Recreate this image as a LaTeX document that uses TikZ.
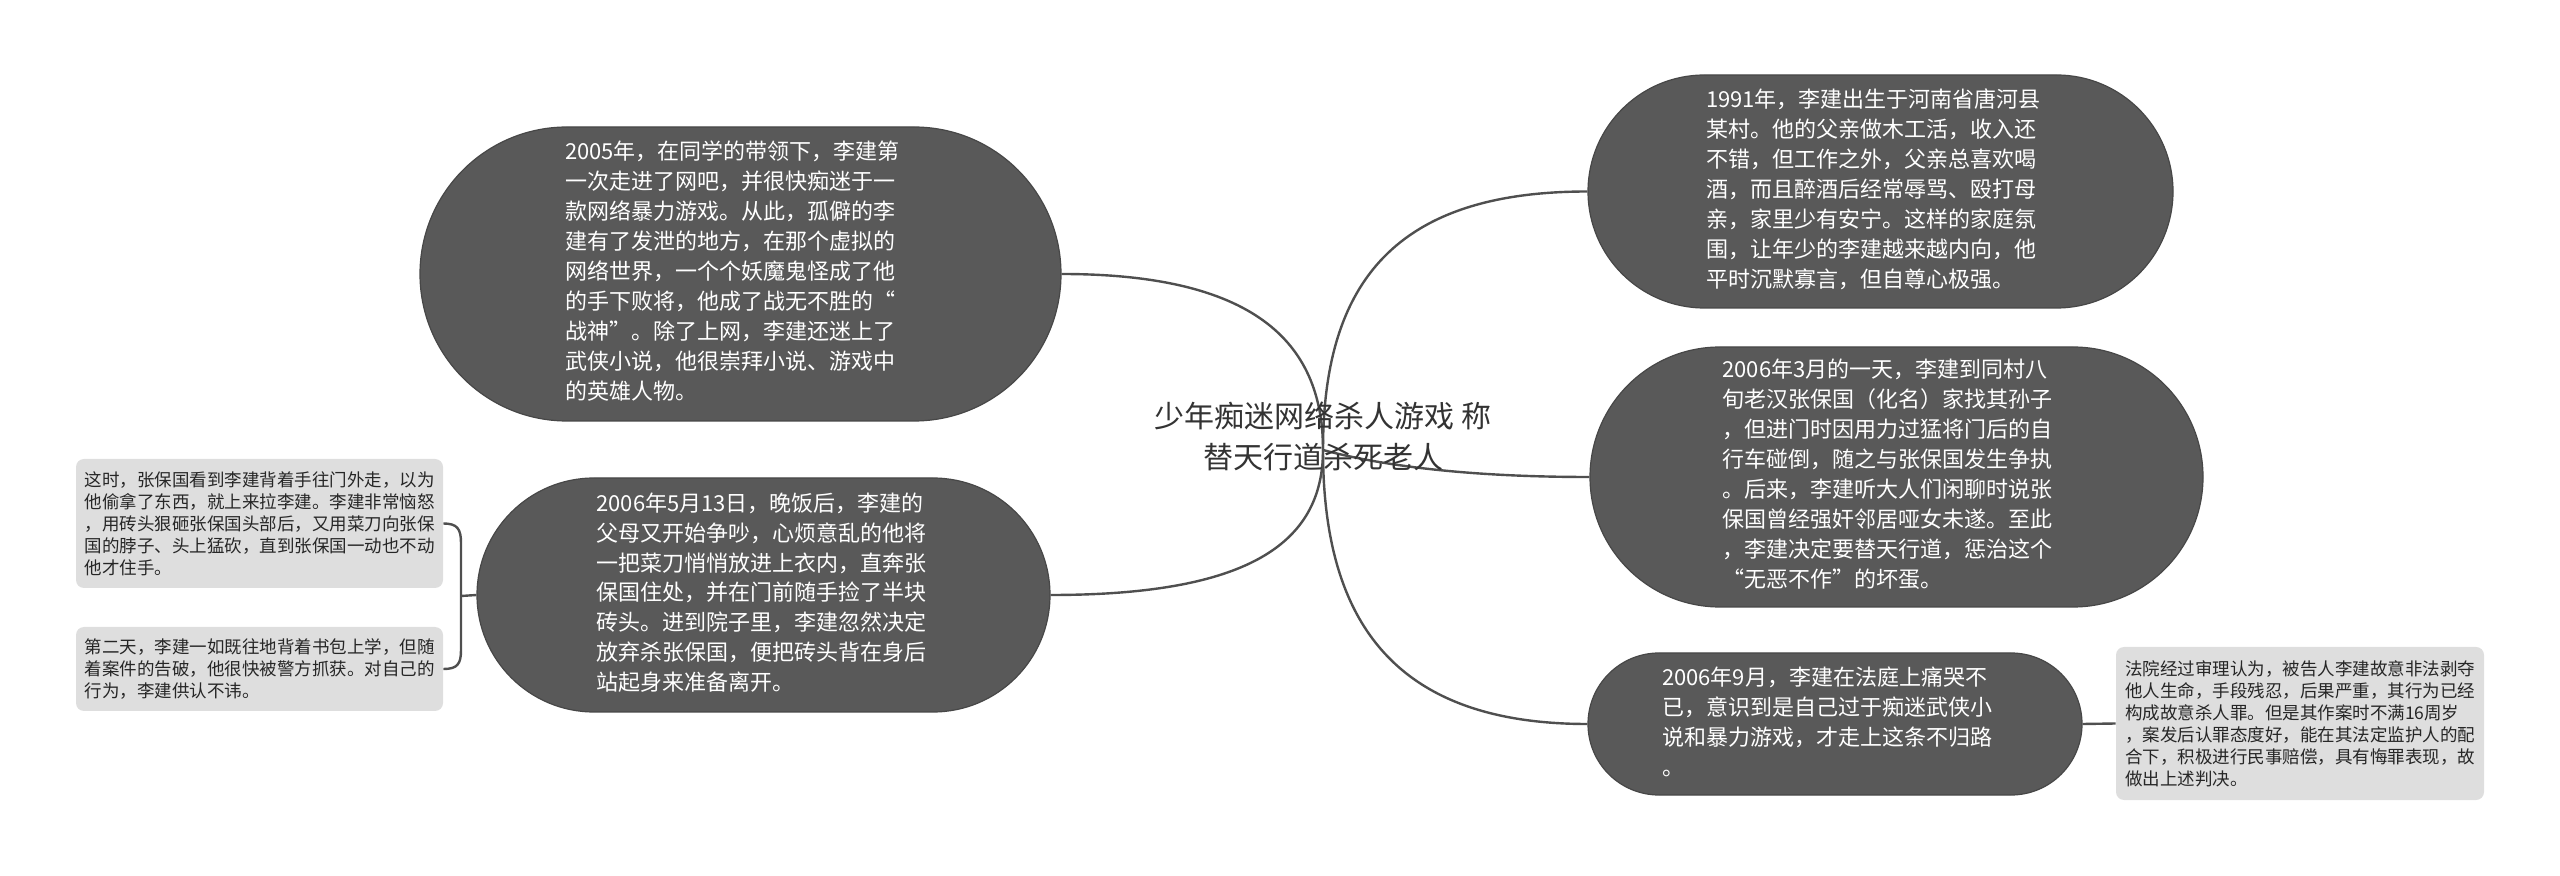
\documentclass[tikz,border=0pt]{standalone}
\usepackage{fontspec}
\setmainfont{Noto Sans CJK SC}
\definecolor{darkfill}{HTML}{595959}
\definecolor{darkedge}{HTML}{474747}
\definecolor{lightfill}{HTML}{DEDEDE}
\definecolor{linecol}{HTML}{4F4F4F}
\definecolor{titlecol}{HTML}{333333}
\definecolor{smalltext}{HTML}{262626}
\pgfdeclarelayer{background}
\pgfsetlayers{background,main}
\newcommand{\blk}[2]{\begin{tabular}{@{}l@{\hspace{#1}}}#2\end{tabular}}
\begin{document}
\begin{tikzpicture}[x=0.5pt,y=-0.5pt,
  dark/.style={draw=darkedge, fill=darkfill, text=white, line width=0.6pt, inner sep=0pt,
    font=\fontsize{11}{15}\selectfont},
  light/.style={fill=lightfill, rounded corners=4pt, inner sep=0pt, align=left,
    text=smalltext, font=\fontsize{8.75}{11}\selectfont},
  conn/.style={draw=linecol, line width=1.2pt},
  titlestyle/.style={align=center, text=titlecol, inner sep=0pt, font=\fontsize{15}{20.5}\selectfont}]
\useasboundingbox (0,0) rectangle (2560,876);

\coordinate (J) at (1323,450);
\coordinate (S) at (461,596);
\coordinate (V1) at (461,543);
\coordinate (V2) at (461,650);

\node[titlestyle] (root) at (1323,436.5) {少年痴迷网络杀人游戏 称\\替天行道杀死老人};

\node[dark, minimum width=320.5pt, minimum height=147pt, rounded corners=73.5pt] (TL) at (740.5,274)
 {\blk{8pt}{2005年，在同学的带领下，李建第\\一次走进了网吧，并很快痴迷于一\\款网络暴力游戏。从此，孤僻的李\\建有了发泄的地方，在那个虚拟的\\网络世界，一个个妖魔鬼怪成了他\\的手下败将，他成了战无不胜的“\\战神”。除了上网，李建还迷上了\\武侠小说，他很崇拜小说、游戏中\\的英雄人物。}};
\node[dark, minimum width=286.5pt, minimum height=117pt, rounded corners=58.5pt] (BL) at (763.5,595)
 {\blk{2pt}{2006年5月13日，晚饭后，李建的\\父母又开始争吵，心烦意乱的他将\\一把菜刀悄悄放进上衣内，直奔张\\保国住处，并在门前随手捡了半块\\砖头。进到院子里，李建忽然决定\\放弃杀张保国，便把砖头背在身后\\站起身来准备离开。}};
\node[dark, minimum width=292.5pt, minimum height=116.5pt, rounded corners=58.25pt] (TR) at (1880.5,191.5)
 {\blk{7pt}{1991年，李建出生于河南省唐河县\\某村。他的父亲做木工活，收入还\\不错，但工作之外，父亲总喜欢喝\\酒，而且醉酒后经常辱骂、殴打母\\亲，家里少有安宁。这样的家庭氛\\围，让年少的李建越来越内向，他\\平时沉默寡言，但自尊心极强。}};
\node[dark, minimum width=306.5pt, minimum height=130pt, rounded corners=65pt] (MR) at (1896.5,477)
 {\blk{9pt}{2006年3月的一天，李建到同村八\\旬老汉张保国（化名）家找其孙子\\，但进门时因用力过猛将门后的自\\行车碰倒，随之与张保国发生争执\\。后来，李建听大人们闲聊时说张\\保国曾经强奸邻居哑女未遂。至此\\，李建决定要替天行道，惩治这个\\“无恶不作”的坏蛋。}};
\node[dark, minimum width=247pt, minimum height=71pt, rounded corners=35.5pt] (BR) at (1835,724)
 {\blk{8pt}{2006年9月，李建在法庭上痛哭不\\已，意识到是自己过于痴迷武侠小\\说和暴力游戏，才走上这条不归路\\。}};

\node[light, minimum width=183.5pt, minimum height=64.5pt] (B1) at (259.5,523.5) {这时，张保国看到李建背着手往门外走，以为\\他偷拿了东西，就上来拉李建。李建非常恼怒\\，用砖头狠砸张保国头部后，又用菜刀向张保\\国的脖子、头上猛砍，直到张保国一动也不动\\他才住手。};
\node[light, minimum width=183.5pt, minimum height=42pt] (B2) at (259.5,669) {第二天，李建一如既往地背着书包上学，但随\\着案件的告破，他很快被警方抓获。对自己的\\行为，李建供认不讳。};
\node[light, minimum width=184pt, minimum height=76.5pt] (RB) at (2300,723.5) {法院经过审理认为，被告人李建故意非法剥夺\\他人生命，手段残忍，后果严重，其行为已经\\构成故意杀人罪。但是其作案时不满16周岁\\，案发后认罪态度好，能在其法定监护人的配\\合下，积极进行民事赔偿，具有悔罪表现，故\\做出上述判决。};

\begin{pgfonlayer}{background}
\draw[conn] (J) .. controls +(0,-110) and +(190,0) .. (TL.east);
\draw[conn] (J) .. controls +(0,95) and +(195,0) .. (BL.east);
\draw[conn] (J) .. controls +(0,-170) and +(-190,0) .. (TR.west);
\draw[conn] (J) .. controls +(60,16) and +(-120,0) .. (MR.west);
\draw[conn] (J) .. controls +(0,175) and +(-190,0) .. (BR.west);
\draw[conn] (BR.east) -- (RB.west);
\draw[conn] (BL.west) -- (S);
\draw[conn] (B1.east) .. controls +(14,0) and +(0,-14) .. (V1) -- (V2) .. controls +(0,14) and +(14,0) .. (B2.east);
\end{pgfonlayer}
\end{tikzpicture}
\end{document}
